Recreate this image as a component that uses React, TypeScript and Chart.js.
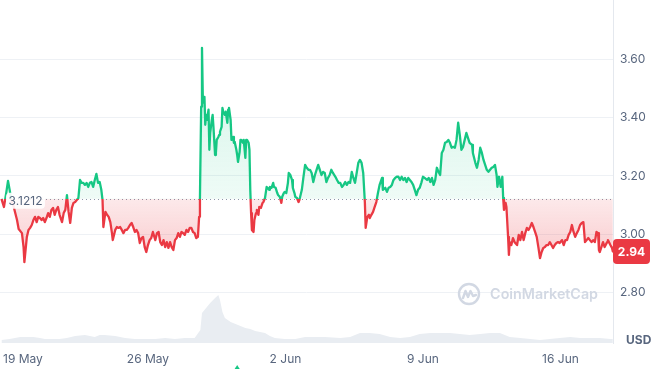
import React, { useEffect, useRef } from 'react';
import { Chart, registerables } from 'chart.js';

Chart.register(...registerables);

// ---- data ----
const BASELINE = 3.1212; // period open price
const LAST_PRICE = 2.94;
const X_MIN_HOUR = -12.8; // hours since 19 May 00:00
const X_MAX_HOUR = 736.2;
const PRICE_MIN = 2.6248;
const PRICE_MAX = 3.8055;
const VOLUME_MAX = 3430;
const xTickHours = [0, 168, 336, 504, 672];
const xTickLabels = ['19 May', '26 May', '2 Jun', '9 Jun', '16 Jun'];
const yTickValues = [2.8, 3.0, 3.2, 3.4, 3.6];
const eventHours = [277];

// [hour since 19 May 00:00, price USD]
const pricePoints: [number, number][] = [
  [-11, 3.121], [-8, 3.093], [-5, 3.145], [-3, 3.183], [-1, 3.152], [1, 3.117], [4, 3.093], [8, 3.048],
  [10, 3.017], [14, 3.003], [16, 2.955], [17, 2.903], [20, 2.99], [22, 3.014], [24, 3.021], [26, 3.031],
  [28, 3.048], [30, 3.059], [32, 3.041], [34, 3.059], [36, 3.055], [38, 3.048], [40, 3.055], [42, 3.041],
  [44, 3.055], [46, 3.072], [48, 3.059], [50, 3.083], [52, 3.09], [54, 3.066], [56, 3.083], [58, 3.093],
  [60, 3.066], [63, 3.041], [65, 3.072], [67, 3.083], [69, 3.134], [71, 3.076], [73, 3.038], [75, 3.09],
  [77, 3.107], [79, 3.11], [81, 3.117], [83, 3.124], [85, 3.186], [87, 3.176], [89, 3.176], [91, 3.169],
  [93, 3.176], [95, 3.162], [97, 3.176], [99, 3.179], [101, 3.162], [103, 3.186], [105, 3.207], [107, 3.176],
  [109, 3.179], [111, 3.152], [112.5, 3.117], [113.5, 3.024], [116, 3.076], [118, 3.066], [120, 3.059], [122, 3.041],
  [124, 3.003], [125, 2.979], [128, 3.014], [130, 3.024], [132, 3.021], [134, 3.024], [136, 3.014], [138, 3.003],
  [140, 3.014], [142, 3.014], [144, 3.021], [146, 3.031], [148, 3.038], [150, 3.024], [152, 3.007], [154, 3.014],
  [156, 3.003], [158, 2.969], [160, 2.986], [162, 2.99], [164, 2.955], [166, 2.938], [168, 2.962], [170, 2.979],
  [172, 2.986], [174, 3.007], [177, 2.979], [179, 3.003], [181, 3.007], [183, 2.972], [185, 2.962], [187, 2.979],
  [189, 2.955], [191, 2.972], [193, 2.952], [195, 2.972], [197, 2.955], [199, 2.945], [201, 2.979], [203, 2.986],
  [205, 3.003], [207, 2.99], [209, 3.007], [211, 3.003], [213, 2.997], [215, 3.014], [217, 3.007], [219, 3.021],
  [221, 3.021], [223, 3.007], [225, 3.003], [227, 2.986], [229, 2.99], [230.5, 3.059], [231.5, 3.121], [233, 3.438],
  [234, 3.641], [235, 3.472], [236, 3.452], [237, 3.472], [238, 3.376], [239, 3.41], [240, 3.393], [242, 3.428],
  [243, 3.29], [244, 3.348], [246, 3.393], [247, 3.41], [248, 3.369], [250, 3.272], [251, 3.279], [252, 3.324],
  [254, 3.334], [255, 3.341], [256, 3.352], [258, 3.369], [259, 3.434], [260, 3.421], [262, 3.41], [263, 3.421],
  [265, 3.383], [266, 3.428], [267, 3.434], [269, 3.393], [270, 3.324], [272, 3.334], [273, 3.314], [274, 3.317],
  [276, 3.29], [277, 3.272], [278, 3.248], [280, 3.283], [281, 3.324], [282, 3.324], [284, 3.314], [285, 3.324],
  [287, 3.262], [288, 3.324], [289, 3.324], [291, 3.314], [292, 3.29], [293, 3.152], [294, 3.072], [295, 3.014],
  [297, 3.007], [298, 3.048], [300, 3.072], [301, 3.083], [303, 3.066], [304, 3.093], [306, 3.09], [308, 3.107],
  [309, 3.11], [311, 3.124], [313, 3.162], [314, 3.159], [316, 3.152], [317, 3.162], [319, 3.159], [321, 3.176],
  [322, 3.162], [324, 3.159], [326, 3.141], [327, 3.134], [329, 3.128], [331, 3.107], [332, 3.128], [334, 3.141],
  [335, 3.145], [337, 3.141], [339, 3.176], [340, 3.21], [342, 3.203], [344, 3.186], [345, 3.159], [347, 3.141],
  [348, 3.128], [350, 3.124], [352, 3.11], [353, 3.117], [356, 3.152], [358, 3.197], [360, 3.238], [362, 3.228],
  [364, 3.221], [366, 3.221], [368, 3.21], [370, 3.179], [372, 3.203], [374, 3.221], [376, 3.238], [378, 3.221],
  [380, 3.203], [382, 3.214], [384, 3.21], [386, 3.179], [388, 3.193], [390, 3.203], [392, 3.221], [394, 3.21],
  [397, 3.197], [399, 3.186], [401, 3.176], [403, 3.176], [405, 3.162], [407, 3.169], [409, 3.179], [411, 3.169],
  [413, 3.179], [415, 3.176], [417, 3.214], [419, 3.193], [421, 3.176], [423, 3.21], [425, 3.245], [427, 3.255],
  [429, 3.245], [431, 3.21], [433, 3.11], [434, 3.021], [436, 3.059], [438, 3.066], [439, 3.055], [441, 3.066],
  [443, 3.076], [445, 3.093], [447, 3.11], [449, 3.141], [451, 3.169], [454, 3.193], [455, 3.152], [458, 3.159],
  [460, 3.145], [462, 3.159], [464, 3.162], [466, 3.169], [468, 3.186], [470, 3.193], [472, 3.197], [474, 3.197],
  [476, 3.186], [478, 3.197], [480, 3.186], [482, 3.193], [484, 3.179], [486, 3.193], [488, 3.186], [490, 3.179],
  [492, 3.169], [494, 3.152], [496, 3.134], [498, 3.152], [500, 3.159], [502, 3.176], [504, 3.197], [506, 3.193],
  [509, 3.186], [511, 3.193], [513, 3.179], [515, 3.193], [517, 3.169], [519, 3.186], [521, 3.228], [523, 3.214],
  [525, 3.203], [527, 3.279], [529, 3.29], [531, 3.314], [533, 3.317], [535, 3.324], [537, 3.314], [539, 3.297],
  [541, 3.3], [543, 3.297], [545, 3.324], [547, 3.383], [549, 3.341], [551, 3.29], [553, 3.3], [555, 3.324],
  [557, 3.348], [559, 3.331], [561, 3.314], [564, 3.307], [565, 3.279], [568, 3.245], [570, 3.228], [572, 3.255],
  [574, 3.297], [576, 3.279], [578, 3.255], [580, 3.238], [582, 3.221], [584, 3.214], [586, 3.221], [588, 3.228],
  [590, 3.231], [592, 3.238], [594, 3.203], [595, 3.162], [597, 3.197], [598, 3.197], [599, 3.162], [601, 3.197],
  [602, 3.124], [603, 3.083], [605, 3.107], [606, 3.093], [608, 2.99], [609, 2.928], [610, 2.972], [612, 2.962],
  [614, 2.986], [616, 2.972], [619, 2.962], [621, 2.997], [623, 2.979], [625, 3.007], [627, 2.979], [629, 3.003],
  [631, 3.021], [633, 3.014], [635, 3.024], [637, 3.038], [639, 3.024], [641, 3.007], [643, 2.99], [645, 2.955],
  [647, 2.917], [649, 2.938], [651, 2.952], [653, 2.955], [655, 2.962], [657, 2.962], [659, 2.972], [661, 2.962],
  [663, 2.952], [665, 2.962], [667, 2.969], [669, 2.972], [671, 2.969], [674, 2.979], [676, 2.962], [678, 2.979],
  [680, 2.979], [682, 2.997], [684, 3.007], [686, 3.031], [688, 3.007], [690, 2.99], [692, 3.003], [694, 3.014],
  [696, 3.031], [698, 3.038], [700, 3.041], [702, 2.972], [704, 2.979], [706, 2.986], [708, 2.979], [710, 2.972],
  [712, 2.979], [714, 2.972], [716, 3.007], [718, 3.003], [719, 2.945], [720, 2.938], [722, 2.955], [724, 2.972],
  [726, 2.955], [729, 2.972], [730, 2.979], [733, 2.962], [735, 2.952], [736, 2.94],
];

// [hour since 19 May 00:00, volume (M USD)]
const volumePoints: [number, number][] = [
  [-11, 30], [-1, 40], [12, 60], [18, 60], [28, 60], [36, 50], [42, 40], [60, 40], [69, 50], [79, 70],
  [91, 80], [103, 60], [109, 80], [115, 80], [128, 70], [140, 50], [152, 40], [177, 40], [189, 50], [201, 40],
  [213, 50], [225, 50], [232, 130], [234, 300], [238, 340], [244, 400], [250, 450], [254, 480], [256, 430], [259, 310],
  [262, 250], [269, 210], [275, 190], [281, 170], [287, 150], [293, 140], [299, 120], [305, 110], [311, 100], [317, 70],
  [323, 50], [335, 40], [348, 40], [360, 60], [372, 60], [384, 60], [403, 50], [415, 60], [427, 100], [439, 100],
  [451, 90], [464, 60], [476, 50], [488, 60], [500, 90], [513, 100], [525, 100], [537, 100], [549, 90], [561, 80],
  [574, 90], [586, 100], [598, 100], [610, 60], [623, 50], [635, 40], [647, 30], [659, 40], [671, 50], [684, 60],
  [696, 50], [708, 50], [720, 50], [733, 40], [736, 40],
];

// ---- style ----
const GREEN = '#16c784';
const RED = '#ea3943';
const TEXT = '#58667e';
const FONT = 'Inter, "Liberation Sans", Arial, sans-serif';

function clamp01(v: number) {
  return Math.max(0, Math.min(1, v));
}

function splitGradient(chart: any, kind: 'line' | 'fill') {
  const { ctx, chartArea, scales } = chart;
  if (!chartArea || !scales || !scales.y) return kind === 'line' ? GREEN : 'rgba(0,0,0,0)';
  const y = scales.y;
  const top = chartArea.top;
  const h = chartArea.bottom - chartArea.top;
  const s = clamp01((y.getPixelForValue(BASELINE) - top) / h);
  const g = ctx.createLinearGradient(0, top, 0, chartArea.bottom);
  if (kind === 'line') {
    g.addColorStop(0, GREEN);
    g.addColorStop(s, GREEN);
    g.addColorStop(s, RED);
    g.addColorStop(1, RED);
  } else {
    const sHigh = clamp01((y.getPixelForValue(3.6) - top) / h);
    const sLow = clamp01((y.getPixelForValue(2.9) - top) / h);
    g.addColorStop(0, 'rgba(22,199,132,0.20)');
    g.addColorStop(sHigh, 'rgba(22,199,132,0.18)');
    g.addColorStop(s, 'rgba(22,199,132,0.07)');
    g.addColorStop(s, 'rgba(234,57,67,0.11)');
    g.addColorStop(sLow, 'rgba(234,57,67,0.27)');
    g.addColorStop(1, 'rgba(234,57,67,0.27)');
  }
  return g;
}

function roundRect(ctx: CanvasRenderingContext2D, x: number, y: number, w: number, h: number, r: number) {
  ctx.beginPath();
  ctx.moveTo(x + r, y);
  ctx.lineTo(x + w - r, y);
  ctx.arcTo(x + w, y, x + w, y + r, r);
  ctx.lineTo(x + w, y + h - r);
  ctx.arcTo(x + w, y + h, x + w - r, y + h, r);
  ctx.lineTo(x + r, y + h);
  ctx.arcTo(x, y + h, x, y + h - r, r);
  ctx.lineTo(x, y + r);
  ctx.arcTo(x, y, x + r, y, r);
  ctx.closePath();
}

const overlayPlugin = {
  id: 'overlay',
  beforeDatasetsDraw(chart: any) {
    const { ctx, chartArea: a, scales } = chart;
    ctx.save();
    // watermark
    const wm = '#d2d8e3';
    const textRight = a.right - 15;
    const cy = a.bottom - 49;
    ctx.font = `600 17px ${FONT}`;
    const w0 = ctx.measureText('CoinMarketCap').width;
    const size = (17 * 108) / w0;
    ctx.font = `600 ${size}px ${FONT}`;
    ctx.fillStyle = wm;
    ctx.textAlign = 'right';
    ctx.textBaseline = 'middle';
    ctx.fillText('CoinMarketCap', textRight, cy + 1);
    const cx = textRight - 129;
    ctx.strokeStyle = wm;
    ctx.lineWidth = 2.4;
    ctx.lineJoin = 'round';
    ctx.lineCap = 'round';
    ctx.beginPath();
    ctx.arc(cx, cy, 10, 0, Math.PI * 2);
    ctx.stroke();
    ctx.beginPath();
    ctx.moveTo(cx - 6, cy + 4);
    ctx.lineTo(cx - 3.5, cy - 3);
    ctx.lineTo(cx - 1, cy + 3);
    ctx.lineTo(cx + 1.5, cy - 3);
    ctx.lineTo(cx + 4, cy + 2);
    ctx.lineTo(cx + 7, cy + 1);
    ctx.stroke();
    // dotted baseline
    const yb = Math.round(scales.y.getPixelForValue(BASELINE)) + 0.5;
    ctx.setLineDash([1, 3]);
    ctx.strokeStyle = '#8d98aa';
    ctx.lineWidth = 1;
    ctx.lineCap = 'butt';
    ctx.beginPath();
    ctx.moveTo(a.left + 2, yb);
    ctx.lineTo(a.right, yb);
    ctx.stroke();
    ctx.restore();
  },
  afterDraw(chart: any) {
    const { ctx, chartArea: a, scales } = chart;
    ctx.save();
    // baseline label
    const yb = scales.y.getPixelForValue(BASELINE);
    ctx.font = `12px ${FONT}`;
    const label = BASELINE.toFixed(4);
    const tw = ctx.measureText(label).width;
    ctx.fillStyle = 'rgba(255,255,255,0.9)';
    roundRect(ctx, a.left + 6, yb - 6, tw + 5, 16, 4);
    ctx.fill();
    ctx.fillStyle = TEXT;
    ctx.textAlign = 'left';
    ctx.textBaseline = 'middle';
    ctx.fillText(label, a.left + 8.5, yb + 2.5);

    // last price tag
    const yp = scales.y.getPixelForValue(LAST_PRICE);
    ctx.fillStyle = RED;
    roundRect(ctx, a.right, yp - 12.5, 37, 25, 4);
    ctx.fill();
    ctx.fillStyle = '#ffffff';
    ctx.font = `bold 12px ${FONT}`;
    ctx.textAlign = 'center';
    ctx.fillText(LAST_PRICE.toFixed(2), a.right + 18.5, yp + 0.5);

    // x labels
    ctx.font = `12px ${FONT}`;
    ctx.fillStyle = TEXT;
    ctx.textAlign = 'left';
    xTickHours.forEach((hr, i) => {
      const px = scales.x.getPixelForValue(hr);
      const w = ctx.measureText(xTickLabels[i]).width;
      const left = Math.max(px - w / 2, a.left + 3);
      ctx.fillText(xTickLabels[i], left, a.bottom + 16);
    });

    // currency
    ctx.font = `bold 12px ${FONT}`;
    ctx.fillText('USD', a.right + 13, a.bottom - 3);

    // event markers
    ctx.fillStyle = GREEN;
    eventHours.forEach((hr) => {
      const px = scales.x.getPixelForValue(hr);
      ctx.beginPath();
      ctx.moveTo(px, a.bottom + 22);
      ctx.lineTo(px + 4.5, a.bottom + 29);
      ctx.lineTo(px - 4.5, a.bottom + 29);
      ctx.closePath();
      ctx.fill();
    });
    ctx.restore();
  },
};

export default function App() {
  const ref = useRef<HTMLCanvasElement>(null);

  useEffect(() => {
    document.body.style.margin = '0';
    Chart.defaults.font.family = FONT;
    const chart = new Chart(ref.current as HTMLCanvasElement, {
      type: 'line',
      data: {
        datasets: [
          {
            label: 'Price',
            data: pricePoints.map(([x, y]) => ({ x, y })),
            yAxisID: 'y',
            xAxisID: 'x',
            order: 1,
            borderWidth: 2.3,
            pointRadius: 0,
            tension: 0,
            borderJoinStyle: 'round',
            borderColor: (c: any) => splitGradient(c.chart, 'line'),
            backgroundColor: (c: any) => splitGradient(c.chart, 'fill'),
            fill: { target: { value: BASELINE } },
          } as any,
          {
            label: 'Volume',
            data: volumePoints.map(([x, y]) => ({ x, y })),
            yAxisID: 'yv',
            xAxisID: 'x',
            order: 2,
            borderWidth: 1,
            borderColor: 'rgba(0,0,0,0)',
            backgroundColor: '#e9edf2',
            pointRadius: 0,
            tension: 0,
            fill: 'origin',
          } as any,
        ],
      },
      options: {
        animation: false,
        responsive: true,
        maintainAspectRatio: false,
        layout: { padding: { top: 0, left: 0, right: 0, bottom: 26 } },
        plugins: { legend: { display: false }, tooltip: { enabled: false } },
        scales: {
          x: { type: 'linear', min: X_MIN_HOUR, max: X_MAX_HOUR, display: false },
          y: {
            position: 'right',
            min: PRICE_MIN,
            max: PRICE_MAX,
            afterBuildTicks: (s: any) => {
              s.ticks = yTickValues.map((v) => ({ value: v }));
            },
            afterFit: (s: any) => {
              s.width = 39;
              s.paddingTop = 0;
              s.paddingBottom = 0;
            },
            grid: { color: '#eef1f5', drawTicks: false },
            border: { display: true, color: '#e4e8ee' },
            ticks: {
              padding: 7,
              color: TEXT,
              font: { size: 12 },
              callback: (v: any) => Number(v).toFixed(2),
            },
          },
          yv: { display: false, min: 0, max: VOLUME_MAX },
        },
      },
      plugins: [overlayPlugin],
    } as any);
    return () => chart.destroy();
  }, []);

  return (
    <div style={{ position: 'relative', width: 652, height: 369 }}>
      <canvas ref={ref} />
    </div>
  );
}
